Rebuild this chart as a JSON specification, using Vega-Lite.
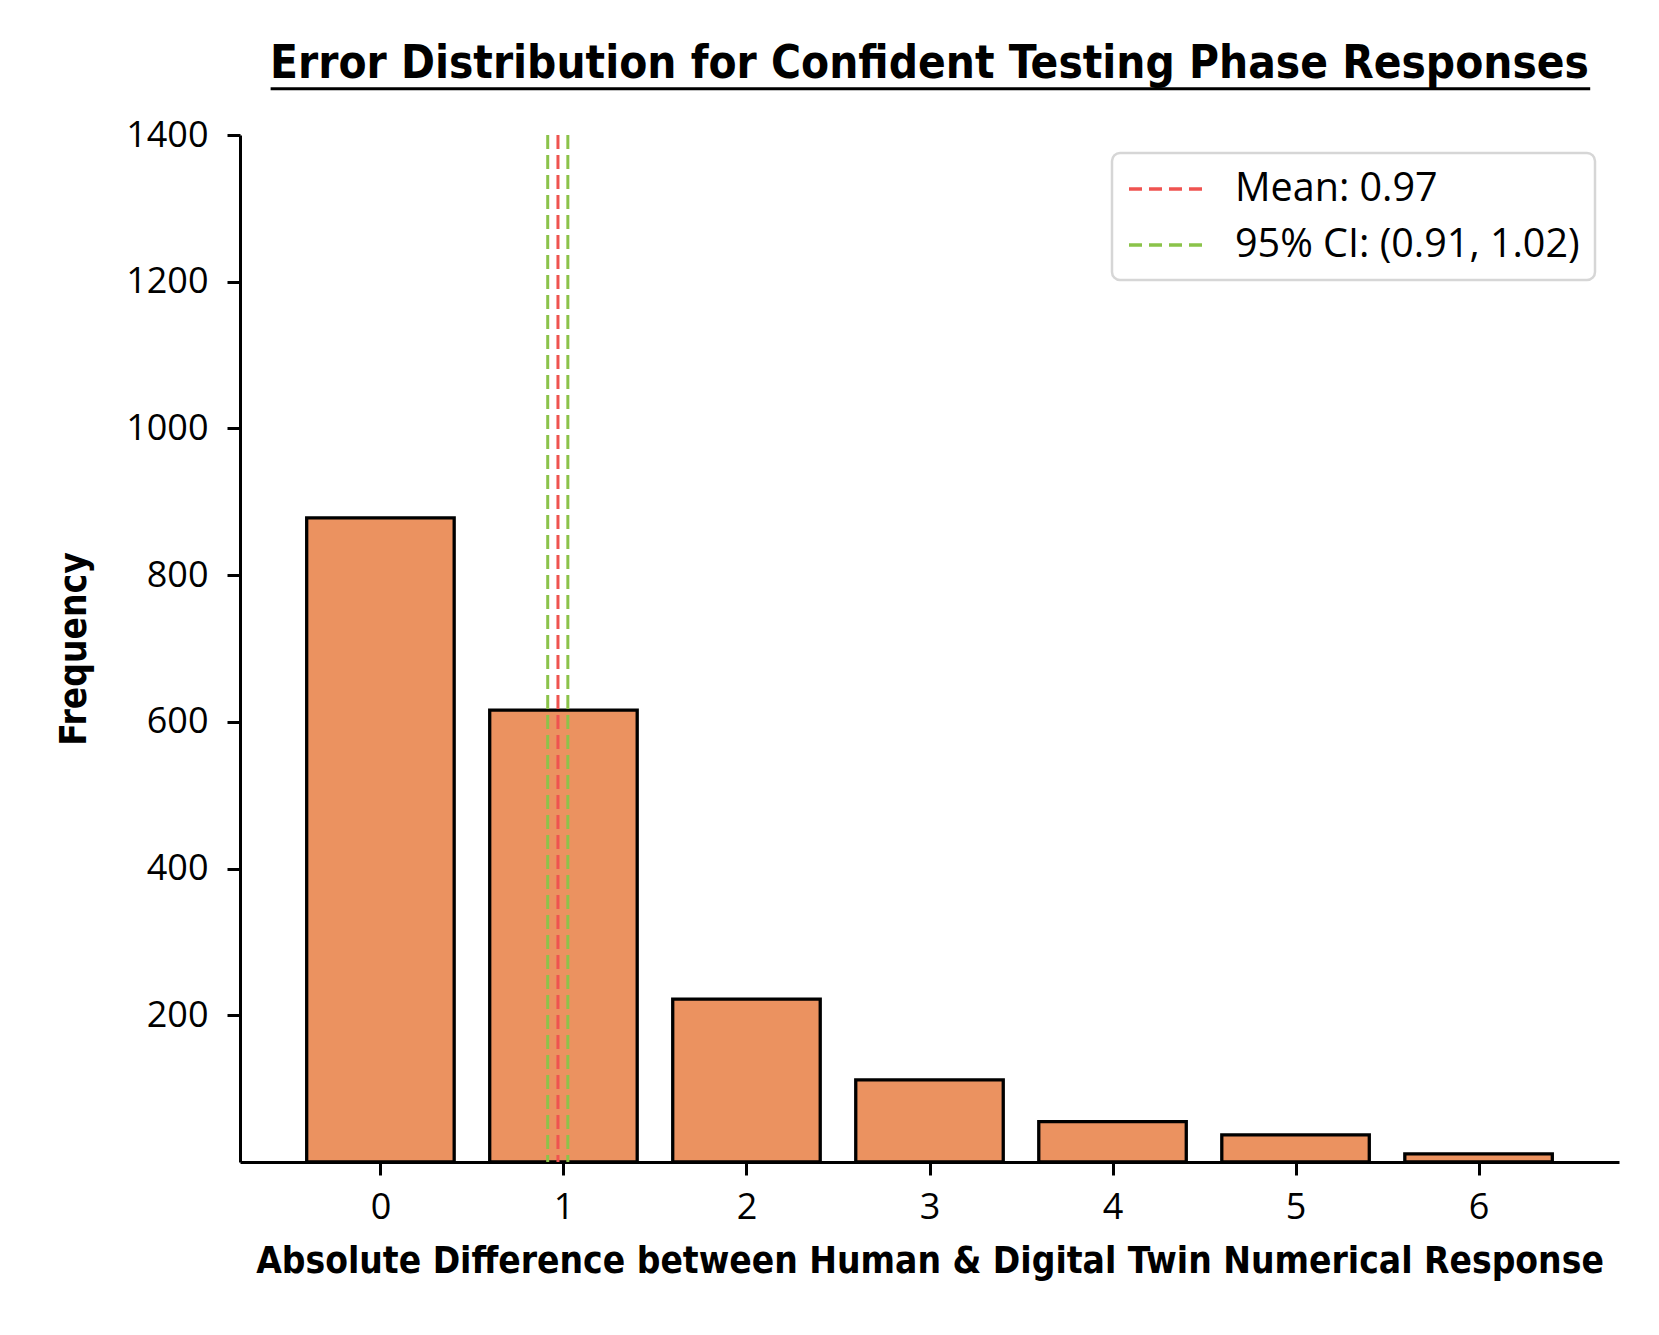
{
  "$schema": "https://vega.github.io/schema/vega-lite/v6.json",
  "autosize": {"type": "none"},
  "padding": {"left": 240, "top": 135, "right": 40, "bottom": 173},
  "width": 1379,
  "height": 1027,
  "background": "white",
  "config": {
    "view": {"stroke": null},
    "axis": {
      "grid": false,
      "domainColor": "black",
      "domainWidth": 3,
      "tickColor": "black",
      "tickWidth": 3,
      "tickSize": 13,
      "labelFont": "Open Sans",
      "labelFontSize": 36,
      "labelColor": "black",
      "titleFont": "DejaVu Sans Condensed",
      "titleFontWeight": "bold",
      "titleFontSize": 36.8,
      "titleColor": "black"
    }
  },
  "title": {
    "text": "Error Distribution for Confident Testing Phase Responses",
    "font": "DejaVu Sans Condensed",
    "fontWeight": "bold",
    "fontSize": 45.5,
    "color": "black",
    "anchor": "middle",
    "baseline": "alphabetic",
    "offset": -36
  },
  "layer": [
    {
      "data": {
        "values": [
          {"diff": 0, "count": 878},
          {"diff": 1, "count": 616},
          {"diff": 2, "count": 222},
          {"diff": 3, "count": 112},
          {"diff": 4, "count": 55},
          {"diff": 5, "count": 37},
          {"diff": 6, "count": 11}
        ]
      },
      "mark": {"type": "bar", "width": 147.5, "fill": "#eb9260", "stroke": "black", "strokeWidth": 3.3},
      "encoding": {
        "x": {
          "field": "diff",
          "type": "quantitative",
          "scale": {"domain": [-0.74, 6.74], "nice": false, "zero": false},
          "axis": {"values": [0, 1, 2, 3, 4, 5, 6], "title": "Absolute Difference between Human & Digital Twin Numerical Response", "labelPadding": 15, "titlePadding": 18, "format": "d"}
        },
        "y": {
          "field": "count",
          "type": "quantitative",
          "scale": {"domain": [0, 1400], "nice": false},
          "axis": {"values": [200, 400, 600, 800, 1000, 1200, 1400], "title": "Frequency", "labelPadding": 19, "titlePadding": 32, "format": "d"}
        }
      }
    },
    {
      "data": {"values": [{}]},
      "mark": {"type": "rule", "stroke": "black", "strokeWidth": 3},
      "encoding": {
        "x": {"datum": -0.6, "type": "quantitative"},
        "x2": {"datum": 6.61},
        "y": {"datum": 1463, "type": "quantitative"}
      }
    },
    {
      "data": {
        "values": [
          {"stat": "Mean: 0.97", "value": 0.97},
          {"stat": "95% CI: (0.91, 1.02)", "value": 0.914},
          {"stat": "95% CI: (0.91, 1.02)", "value": 1.024}
        ]
      },
      "mark": {"type": "rule", "strokeWidth": 3, "strokeDash": [14, 6]},
      "encoding": {
        "x": {"field": "value", "type": "quantitative"},
        "color": {
          "field": "stat",
          "type": "nominal",
          "scale": {"domain": ["Mean: 0.97", "95% CI: (0.91, 1.02)"], "range": ["#ef5350", "#8bc34a"]},
          "legend": {
            "title": null,
            "orient": "none",
            "legendX": 872,
            "legendY": 18,
            "symbolType": "M -1 0 H 3",
            "symbolSize": 1444,
            "symbolStrokeWidth": 3.5,
            "symbolDash": [13, 7],
            "labelFont": "Open Sans",
            "labelFontSize": 39.5,
            "labelColor": "black",
            "labelLimit": 500,
            "labelOffset": 66,
            "rowPadding": 15,
            "padding": 15,
            "fillColor": "white",
            "strokeColor": "#d6d6d6",
            "cornerRadius": 8,
            "encode": {"legend": {"update": {"strokeWidth": {"value": 2.5}}}}
          }
        }
      }
    }
  ]
}
